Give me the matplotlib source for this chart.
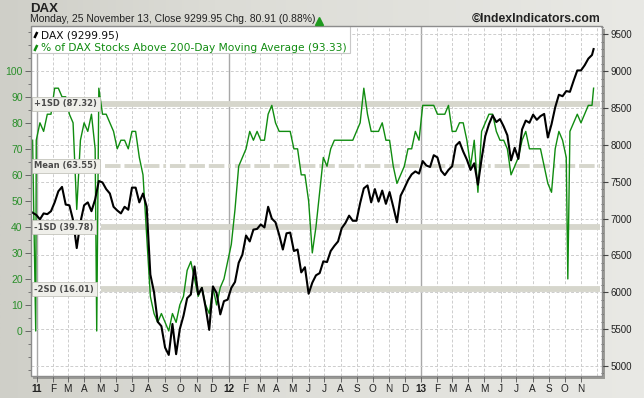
import matplotlib
matplotlib.use('Agg')
import matplotlib.pyplot as plt
from matplotlib.lines import Line2D
from matplotlib.patches import Rectangle
from matplotlib.transforms import blended_transform_factory
import numpy as np
import pandas as pd

# ---------------- data ----------------
week_dates = list(pd.date_range('2010-12-24', '2013-11-22', freq='W-FRI').strftime('%Y-%m-%d')) + ['2013-11-25']

dax_values = [
    7080, 7050, 6990, 7070, 7060, 7100, 7220, 7370, 7430, 7190,
    7180, 6980, 6600, 6950, 7180, 7220, 7100, 7260, 7510, 7490,
    7400, 7340, 7160, 7110, 7070, 7160, 7120, 7420, 7420, 7220,
    7340, 7160, 6240, 6000, 5600, 5540, 5250, 5150, 5570, 5160,
    5500, 5680, 5920, 5970, 6350, 5970, 6060, 5800, 5490, 6080,
    5990, 5700, 5880, 5900, 6060, 6140, 6400, 6510, 6770, 6690,
    6850, 6860, 6920, 6880, 7160, 7000, 6950, 6780, 6580, 6800,
    6810, 6560, 6580, 6270, 6340, 5980, 6130, 6230, 6260, 6420,
    6410, 6560, 6630, 6690, 6870, 6940, 7040, 6970, 6970, 7210,
    7410, 7450, 7220, 7400, 7230, 7380, 7200, 7360, 7160, 6950,
    7310, 7410, 7520, 7600, 7640, 7610, 7780, 7720, 7700, 7860,
    7830, 7650, 7590, 7660, 7710, 7990, 8040, 7910, 7800, 7660,
    7750, 7460, 7810, 8120, 8280, 8400, 8310, 8350, 8250, 8130,
    7790, 7960, 7810, 8210, 8330, 8300, 8410, 8340, 8390, 8420,
    8100, 8280, 8510, 8680, 8660, 8730, 8720, 8870, 9010, 9010,
    9080, 9170, 9220, 9300]

pct_values = [
    73.3, 73.3, 80.0, 76.7, 83.3, 83.3, 93.3, 93.3, 90.0, 90.0,
    83.3, 80.0, 46.7, 73.3, 80.0, 76.7, 83.3, 70.0, 93.3, 83.3,
    83.3, 80.0, 76.7, 70.0, 73.3, 73.3, 70.0, 76.7, 76.7, 66.7,
    60.0, 36.7, 13.3, 6.7, 3.3, 6.7, 3.3, 0.0, 6.7, 3.3,
    10.0, 13.3, 23.3, 26.7, 20.0, 13.3, 16.7, 10.0, 6.7, 16.7,
    10.0, 16.7, 20.0, 26.7, 33.3, 46.7, 63.3, 66.7, 70.0, 76.7,
    73.3, 76.7, 73.3, 73.3, 83.3, 86.7, 80.0, 76.7, 76.7, 76.7,
    76.7, 70.0, 70.0, 60.0, 60.0, 50.0, 30.0, 40.0, 53.3, 66.7,
    63.3, 70.0, 73.3, 73.3, 73.3, 73.3, 73.3, 73.3, 76.7, 80.0,
    93.3, 83.3, 76.7, 76.7, 76.7, 80.0, 73.3, 73.3, 63.3, 56.7,
    60.0, 63.3, 70.0, 70.0, 76.7, 73.3, 86.7, 86.7, 86.7, 86.7,
    83.3, 83.3, 83.3, 86.7, 76.7, 76.7, 80.0, 80.0, 73.3, 63.3,
    73.3, 53.3, 76.7, 80.0, 83.3, 83.3, 76.7, 73.3, 73.3, 70.0,
    60.0, 63.3, 66.7, 73.3, 76.7, 70.0, 70.0, 70.0, 70.0, 63.3,
    56.7, 53.3, 70.0, 76.7, 73.3, 66.7, 76.7, 80.0, 83.3, 80.0,
    83.3, 86.7, 86.7, 93.3]

# single-day glitches in the breadth series
glitch_dates = ['2010-12-30', '2011-04-25', '2013-10-07']
glitch_values = [0.0, 0.0, 20.0]

band_names = ['+1SD', 'Mean', '-1SD', '-2SD']
band_values = [87.32, 63.55, 39.78, 16.01]

pct_ticks = [0, 10, 20, 30, 40, 50, 60, 70, 80, 90, 100]
dax_ticks = [5000, 5500, 6000, 6500, 7000, 7500, 8000, 8500, 9000, 9500]

title = 'DAX'
subtitle = 'Monday, 25 November 13, Close 9299.95 Chg. 80.91 (0.88%)'
credit = '\u00a9IndexIndicators.com'
legend_dax = 'DAX (9299.95)'
legend_pct = '% of DAX Stocks Above 200-Day Moving Average (93.33)'

# ---------------- style ----------------
W, H = 644, 398
BG = '#deded8'
GREEN = '#108c10'
LABEL_GREEN = '#2a8f2a'
BAND = '#d6d6cc'
GRID = '#cdcdcd'
FONT = 'Liberation Sans'

fig = plt.figure(figsize=(W / 100, H / 100), dpi=100)
fig.patch.set_facecolor(BG)

# soft background gradient (darker at left, lighter at right)
bg_ax = fig.add_axes([0, 0, 1, 1], zorder=-10)
bg_ax.axis('off')
grad = np.linspace(0, 1, 256).reshape(1, -1)
cmap_bg = matplotlib.colors.LinearSegmentedColormap.from_list(
    'bg', ['#cfcfc8', '#dcdcd6', '#e2e2dd', '#e9e9e5'])
bg_ax.imshow(grad, aspect='auto', cmap=cmap_bg, extent=[0, 1, 0, 1])

L, R, T, B = 31, 602, 26, 376
def fx(px):
    return px / W
def fy(py):
    return 1 - py / H

# shadow behind plot
shadow = Rectangle((fx(L + 2), fy(B + 3)), fx(R - L + 1), (B - T) / H,
                   transform=fig.transFigure, facecolor='#9a9a96',
                   edgecolor='none', zorder=-5)
fig.patches.append(shadow)

ax = fig.add_axes([fx(L), fy(B), fx(R - L), (B - T) / H])
ax.set_zorder(1)
ax.set_facecolor('white')
ax2 = ax.twinx()
ax2.set_zorder(2)

# series
s_pct = pd.Series(pct_values, index=pd.to_datetime(week_dates))
s_pct = pd.concat([s_pct, pd.Series(glitch_values, index=pd.to_datetime(glitch_dates))]).sort_index()
s_dax = pd.Series(dax_values, index=pd.to_datetime(week_dates))

xmin, xmax = pd.Timestamp('2010-12-21'), pd.Timestamp('2013-12-11')
ax.set_xlim(xmin, xmax)
ax.set_ylim(-17.3, 117.2)
ax2.set_ylim(4864, 9613)

# month grid
months = pd.date_range('2011-01-01', '2013-12-01', freq='MS')
for m in months:
    if m.month == 1:
        ax.axvline(m, color='#a8a8a8', lw=1.0, zorder=1)
    else:
        ax.axvline(m, color=GRID, lw=0.7, ls=(0, (3, 2)), zorder=1)

# horizontal grid at right-axis ticks, drawn in the lower axes
tr = blended_transform_factory(ax.transAxes, ax2.transData)
for v in dax_ticks:
    ax.add_line(Line2D([0, 1], [v, v], transform=tr, color=GRID, lw=0.7,
                       ls=(0, (3, 2)), zorder=1))

# bands
for name, val in zip(band_names, band_values):
    if name == 'Mean':
        ax.axhline(val, xmin=0.13, xmax=0.997, color=BAND, lw=2.8,
                   ls=(0, (4, 1, 4, 1, 4, 1, 0.7, 1)), zorder=2, solid_capstyle='butt')
    else:
        ax.axhline(val, xmin=0.122, xmax=0.997, color=BAND, lw=4.2, zorder=2,
                   solid_capstyle='butt')

ax.plot(s_pct.index, s_pct.values, color=GREEN, lw=1.0, zorder=3)
ax2.plot(s_dax.index, s_dax.values, color='black', lw=1.5, zorder=3)

# band labels
btr = blended_transform_factory(ax.transAxes, ax.transData)
for name, val in zip(band_names, band_values):
    ax2.text(0.006, val, f'{name} ({val:.2f})', transform=btr,
             fontsize=6.0, fontweight='bold', color='#4a4a4a', family='DejaVu Sans',
             va='center', ha='left', zorder=10,
             bbox=dict(boxstyle='square,pad=0.3', fc='#efefea', ec='#c4c4bc', lw=0.6))

# axes styling
for a in (ax, ax2):
    for sp in a.spines.values():
        sp.set_visible(False)

ax.set_yticks(pct_ticks)
ax.set_yticks([v + 5 for v in pct_ticks[:-1]] + [105, 110, 115, -5, -10, -15], minor=True)
ax.tick_params(axis='y', which='major', left=True, right=False, direction='out', length=4,
               width=0.7, color='#666666', labelcolor=LABEL_GREEN, labelsize=7.5, pad=2)
ax.tick_params(axis='y', which='minor', direction='out', length=2, width=0.6, color='#666666')
for lab in ax.get_yticklabels():
    lab.set_family(FONT)

ax2.set_yticks(dax_ticks)
ax2.yaxis.set_minor_locator(matplotlib.ticker.MultipleLocator(100))
ax2.tick_params(axis='y', which='major', right=True, direction='out', length=4,
                width=0.8, color='#444444', labelcolor='#222222', labelsize=7, pad=2)
ax2.tick_params(axis='y', which='minor', direction='inout', length=1.5, width=0.6, color='#444444')
for lab in ax2.get_yticklabels():
    lab.set_family(FONT)

ax.set_xticks(months[:-1])
ax.set_xticklabels([m.strftime('%y') if m.month == 1 else m.strftime('%b')[0] for m in months[:-1]])
ax.tick_params(axis='x', which='major', direction='out', length=4, width=0.7,
               color='#666666', labelsize=7.2, labelcolor='#222222', pad=2)
for lab, m in zip(ax.get_xticklabels(), months[:-1]):
    lab.set_family(FONT)
    if m.month == 1:
        lab.set_fontweight('bold')

# frame
ax2.add_patch(Rectangle((0, 0), 1, 1, transform=ax.transAxes, fill=False,
                        edgecolor='#8c8c8c', lw=1.0, zorder=20, clip_on=False))

# legend box
lw_px = (350 - L) / (R - L)
lh = (53 - T) / (B - T)
ax2.add_patch(Rectangle((0, 1 - lh), lw_px, lh, transform=ax.transAxes,
                        facecolor='white', edgecolor='#c8c8c8', lw=0.8, zorder=8))
ax2.plot([0.006, 0.011], [1 - 12 / 350, 1 - 6 / 350], transform=ax.transAxes,
         color='black', lw=1.8, zorder=9, solid_capstyle='butt')
ax2.plot([0.006, 0.011], [1 - 25 / 350, 1 - 19 / 350], transform=ax.transAxes,
         color=GREEN, lw=1.8, zorder=9, solid_capstyle='butt')
ax2.text(0.017, 1 - 9 / 350, legend_dax, transform=ax.transAxes, fontsize=7.7,
         family='DejaVu Sans', color='#111111', va='center', ha='left', zorder=9)
ax2.text(0.017, 1 - 22 / 350, legend_pct, transform=ax.transAxes, fontsize=7.7,
         family='DejaVu Sans', color=GREEN, va='center', ha='left', zorder=9)

# header
fig.text(fx(30), fy(8.5), title, fontsize=9.5, fontweight='bold', family=FONT,
         color='#222222', va='center', ha='left')
fig.text(fx(30), fy(19), subtitle, fontsize=7.5, family=FONT,
         color='#222222', va='center', ha='left')
fig.lines.append(Line2D([fx(319)], [fy(20.5)], marker='^', markersize=5.5,
                        color='#1f9a1f', transform=fig.transFigure))
fig.text(fx(601), fy(18.5), credit, fontsize=8.8, fontweight='bold', family=FONT,
         color='#222222', va='center', ha='right')

fig.savefig('out.png', dpi=100, facecolor=BG)
